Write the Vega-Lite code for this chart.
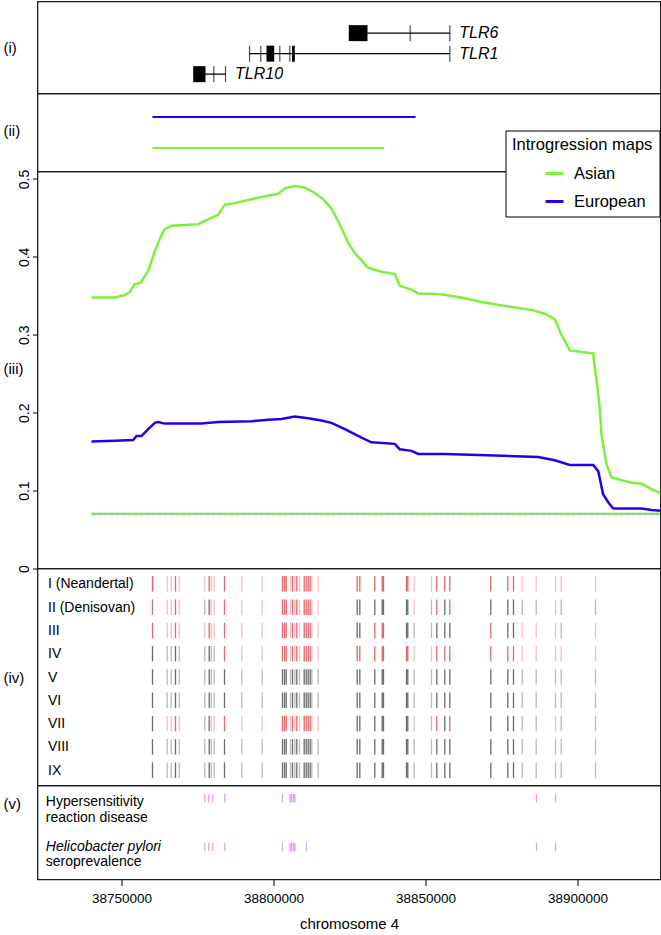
{
  "$schema": "https://vega.github.io/schema/vega-lite/v6.json",
  "padding": {"left": 1.5, "top": 0.5, "right": 0, "bottom": 3},
  "bounds": "flush",
  "spacing": 0,
  "config": {
    "font": "Liberation Sans",
    "view": {"stroke": "#1a1a1a", "strokeWidth": 1.3},
    "axis": {"grid": false, "domain": false, "labelColor": "black", "titleColor": "black", "tickColor": "black", "titleFontWeight": "normal", "titleFontSize": 15, "labelFontSize": 14, "labelFlush": false}
  },
  "resolve": {"scale": {"x": "independent", "y": "independent", "color": "independent"}},
  "datasets": {
    "genes": [
      {"g": "TLR6", "row": 1.3, "s": 38824770, "e": 38857996},
      {"g": "TLR1", "row": 2.3, "s": 38792106, "e": 38857996},
      {"g": "TLR10", "row": 3.3, "s": 38773586, "e": 38784211}
    ],
    "exons": [
      {"row": 1.3, "s": 38824770, "e": 38830921},
      {"row": 2.3, "s": 38797698, "e": 38800231},
      {"row": 2.3, "s": 38806100, "e": 38807007},
      {"row": 3.3, "s": 38773586, "e": 38777632}
    ],
    "gmarks": [
      {"row": 1.3, "s": 38844968}, {"row": 1.3, "s": 38857996},
      {"row": 2.3, "s": 38792106}, {"row": 2.3, "s": 38795823}, {"row": 2.3, "s": 38802073}, {"row": 2.3, "s": 38805362}, {"row": 2.3, "s": 38857996},
      {"row": 3.3, "s": 38780362}, {"row": 3.3, "s": 38784211}
    ],
    "maps": [
      {"map": "European", "s": 38760197, "e": 38846711},
      {"map": "Asian", "s": 38760197, "e": 38836415}
    ],
    "thr": [{"pos": 38740132, "e": 38927303, "val": 0.07}],
    "lines": [
      {"map": "Asian", "pos": 38740132, "val": 0.348}, {"map": "Asian", "pos": 38747796, "val": 0.348}, {"map": "Asian", "pos": 38751086, "val": 0.351}, {"map": "Asian", "pos": 38752730, "val": 0.355}, {"map": "Asian", "pos": 38754375, "val": 0.365}, {"map": "Asian", "pos": 38756349, "val": 0.367}, {"map": "Asian", "pos": 38758783, "val": 0.382}, {"map": "Asian", "pos": 38760954, "val": 0.407}, {"map": "Asian", "pos": 38762270, "val": 0.42}, {"map": "Asian", "pos": 38764046, "val": 0.435}, {"map": "Asian", "pos": 38766447, "val": 0.44}, {"map": "Asian", "pos": 38775230, "val": 0.442}, {"map": "Asian", "pos": 38778520, "val": 0.448}, {"map": "Asian", "pos": 38781810, "val": 0.454}, {"map": "Asian", "pos": 38783981, "val": 0.467}, {"map": "Asian", "pos": 38787270, "val": 0.469}, {"map": "Asian", "pos": 38791678, "val": 0.473}, {"map": "Asian", "pos": 38796053, "val": 0.477}, {"map": "Asian", "pos": 38801546, "val": 0.481}, {"map": "Asian", "pos": 38803718, "val": 0.488}, {"map": "Asian", "pos": 38807007, "val": 0.491}, {"map": "Asian", "pos": 38810297, "val": 0.489}, {"map": "Asian", "pos": 38813586, "val": 0.482}, {"map": "Asian", "pos": 38816349, "val": 0.474}, {"map": "Asian", "pos": 38819080, "val": 0.462}, {"map": "Asian", "pos": 38821284, "val": 0.446}, {"map": "Asian", "pos": 38824573, "val": 0.418}, {"map": "Asian", "pos": 38826744, "val": 0.405}, {"map": "Asian", "pos": 38831152, "val": 0.386}, {"map": "Asian", "pos": 38835527, "val": 0.381}, {"map": "Asian", "pos": 38839902, "val": 0.378}, {"map": "Asian", "pos": 38841547, "val": 0.363}, {"map": "Asian", "pos": 38845396, "val": 0.358}, {"map": "Asian", "pos": 38847599, "val": 0.353}, {"map": "Asian", "pos": 38855264, "val": 0.352}, {"map": "Asian", "pos": 38862929, "val": 0.347}, {"map": "Asian", "pos": 38868422, "val": 0.342}, {"map": "Asian", "pos": 38876087, "val": 0.337}, {"map": "Asian", "pos": 38884870, "val": 0.332}, {"map": "Asian", "pos": 38889245, "val": 0.327}, {"map": "Asian", "pos": 38892534, "val": 0.32}, {"map": "Asian", "pos": 38894738, "val": 0.3}, {"map": "Asian", "pos": 38897468, "val": 0.28}, {"map": "Asian", "pos": 38905166, "val": 0.276}, {"map": "Asian", "pos": 38905692, "val": 0.258}, {"map": "Asian", "pos": 38906810, "val": 0.224}, {"map": "Asian", "pos": 38907337, "val": 0.205}, {"map": "Asian", "pos": 38907896, "val": 0.172}, {"map": "Asian", "pos": 38909541, "val": 0.134}, {"map": "Asian", "pos": 38911186, "val": 0.117}, {"map": "Asian", "pos": 38917765, "val": 0.11}, {"map": "Asian", "pos": 38921054, "val": 0.109}, {"map": "Asian", "pos": 38924344, "val": 0.102}, {"map": "Asian", "pos": 38927633, "val": 0.096},
      {"map": "European", "pos": 38740132, "val": 0.163}, {"map": "European", "pos": 38747796, "val": 0.164}, {"map": "European", "pos": 38753849, "val": 0.165}, {"map": "European", "pos": 38754934, "val": 0.17}, {"map": "European", "pos": 38756579, "val": 0.17}, {"map": "European", "pos": 38758783, "val": 0.179}, {"map": "European", "pos": 38760954, "val": 0.187}, {"map": "European", "pos": 38762072, "val": 0.188}, {"map": "European", "pos": 38764244, "val": 0.186}, {"map": "European", "pos": 38776316, "val": 0.186}, {"map": "European", "pos": 38781810, "val": 0.188}, {"map": "European", "pos": 38792764, "val": 0.189}, {"map": "European", "pos": 38798257, "val": 0.191}, {"map": "European", "pos": 38802632, "val": 0.192}, {"map": "European", "pos": 38807007, "val": 0.195}, {"map": "European", "pos": 38811415, "val": 0.193}, {"map": "European", "pos": 38815790, "val": 0.19}, {"map": "European", "pos": 38819080, "val": 0.187}, {"map": "European", "pos": 38823455, "val": 0.179}, {"map": "European", "pos": 38828948, "val": 0.168}, {"map": "European", "pos": 38832238, "val": 0.162}, {"map": "European", "pos": 38839902, "val": 0.16}, {"map": "European", "pos": 38841547, "val": 0.153}, {"map": "European", "pos": 38845396, "val": 0.151}, {"map": "European", "pos": 38847599, "val": 0.147}, {"map": "European", "pos": 38856350, "val": 0.147}, {"map": "European", "pos": 38872797, "val": 0.145}, {"map": "European", "pos": 38887073, "val": 0.143}, {"map": "European", "pos": 38892534, "val": 0.139}, {"map": "European", "pos": 38897468, "val": 0.133}, {"map": "European", "pos": 38905166, "val": 0.133}, {"map": "European", "pos": 38906810, "val": 0.125}, {"map": "European", "pos": 38908455, "val": 0.095}, {"map": "European", "pos": 38910100, "val": 0.085}, {"map": "European", "pos": 38911745, "val": 0.077}, {"map": "European", "pos": 38917765, "val": 0.077}, {"map": "European", "pos": 38921054, "val": 0.077}, {"map": "European", "pos": 38924344, "val": 0.075}, {"map": "European", "pos": 38927633, "val": 0.074}
    ],
    "snps": [
      {"p": 38760197, "I": "a", "II": "a", "III": "a", "IV": "c", "V": "c", "VI": "c", "VII": "c", "VIII": "c", "IX": "c"},
      {"p": 38765033, "I": "b", "II": "b", "III": "b", "IV": "d", "V": "d", "VI": "d", "VII": "b", "VIII": "d", "IX": "d"},
      {"p": 38766349, "I": "b", "II": "b", "III": "b", "IV": "d", "V": "d", "VI": "d", "VII": "b", "VIII": "d", "IX": "d"},
      {"p": 38767763, "I": "a", "II": "a", "III": "a", "IV": "c", "V": "c", "VI": "c", "VII": "a", "VIII": "c", "IX": "c"},
      {"p": 38768981, "I": "b", "II": "b", "III": "b", "IV": "d", "V": "d", "VI": "d", "VII": "b", "VIII": "d", "IX": "d"},
      {"p": 38777402, "I": "b", "II": "d", "III": "b", "IV": "d", "V": "d", "VI": "d", "VII": "d", "VIII": "d", "IX": "d"},
      {"p": 38778849, "I": "a", "II": "c", "III": "a", "IV": "c", "V": "c", "VI": "c", "VII": "c", "VIII": "c", "IX": "c"},
      {"p": 38779507, "I": "b", "II": "b", "III": "b", "IV": "d", "V": "d", "VI": "d", "VII": "b", "VIII": "d", "IX": "d"},
      {"p": 38780494, "I": "b", "II": "b", "III": "b", "IV": "d", "V": "d", "VI": "d", "VII": "b", "VIII": "d", "IX": "d"},
      {"p": 38783882, "I": "a", "II": "a", "III": "a", "IV": "a", "V": "c", "VI": "c", "VII": "a", "VIII": "c", "IX": "c"},
      {"p": 38789573, "I": "b", "II": "b", "III": "b", "IV": "b", "V": "d", "VI": "d", "VII": "b", "VIII": "d", "IX": "d"},
      {"p": 38796283, "I": "b", "II": "b", "III": "b", "IV": "b", "V": "d", "VI": "d", "VII": "b", "VIII": "d", "IX": "d"},
      {"p": 38802961, "I": "a", "II": "a", "III": "a", "IV": "a", "V": "c", "VI": "c", "VII": "a", "VIII": "c", "IX": "c"},
      {"p": 38803619, "I": "a", "II": "a", "III": "a", "IV": "a", "V": "c", "VI": "c", "VII": "a", "VIII": "c", "IX": "c"},
      {"p": 38804178, "I": "a", "II": "a", "III": "a", "IV": "a", "V": "c", "VI": "c", "VII": "a", "VIII": "c", "IX": "c"},
      {"p": 38805593, "I": "b", "II": "b", "III": "b", "IV": "b", "V": "d", "VI": "d", "VII": "b", "VIII": "d", "IX": "d"},
      {"p": 38806250, "I": "a", "II": "a", "III": "a", "IV": "a", "V": "c", "VI": "c", "VII": "a", "VIII": "c", "IX": "c"},
      {"p": 38807007, "I": "b", "II": "b", "III": "b", "IV": "b", "V": "d", "VI": "d", "VII": "b", "VIII": "d", "IX": "d"},
      {"p": 38807665, "I": "a", "II": "a", "III": "a", "IV": "a", "V": "c", "VI": "c", "VII": "a", "VIII": "c", "IX": "c"},
      {"p": 38808553, "I": "b", "II": "b", "III": "b", "IV": "b", "V": "d", "VI": "d", "VII": "b", "VIII": "d", "IX": "d"},
      {"p": 38810100, "I": "a", "II": "a", "III": "a", "IV": "a", "V": "c", "VI": "c", "VII": "a", "VIII": "c", "IX": "c"},
      {"p": 38810757, "I": "a", "II": "a", "III": "a", "IV": "a", "V": "c", "VI": "c", "VII": "a", "VIII": "c", "IX": "c"},
      {"p": 38811415, "I": "a", "II": "a", "III": "a", "IV": "a", "V": "c", "VI": "c", "VII": "a", "VIII": "c", "IX": "c"},
      {"p": 38812074, "I": "a", "II": "a", "III": "a", "IV": "a", "V": "c", "VI": "c", "VII": "a", "VIII": "c", "IX": "c"},
      {"p": 38812599, "I": "b", "II": "b", "III": "b", "IV": "b", "V": "d", "VI": "d", "VII": "b", "VIII": "d", "IX": "d"},
      {"p": 38814704, "I": "b", "II": "b", "III": "b", "IV": "b", "V": "d", "VI": "d", "VII": "b", "VIII": "d", "IX": "d"},
      {"p": 38827534, "I": "a", "II": "c", "III": "c", "IV": "a", "V": "c", "VI": "c", "VII": "c", "VIII": "c", "IX": "c"},
      {"p": 38828389, "I": "a", "II": "c", "III": "c", "IV": "a", "V": "c", "VI": "c", "VII": "c", "VIII": "c", "IX": "c"},
      {"p": 38833323, "I": "a", "II": "c", "III": "a", "IV": "a", "V": "c", "VI": "c", "VII": "c", "VIII": "c", "IX": "c"},
      {"p": 38835757, "I": "a", "II": "c", "III": "a", "IV": "a", "V": "c", "VI": "c", "VII": "c", "VIII": "c", "IX": "c"},
      {"p": 38836185, "I": "a", "II": "c", "III": "a", "IV": "a", "V": "c", "VI": "c", "VII": "c", "VIII": "c", "IX": "c"},
      {"p": 38843751, "I": "a", "II": "c", "III": "c", "IV": "a", "V": "c", "VI": "c", "VII": "c", "VIII": "c", "IX": "c"},
      {"p": 38844178, "I": "a", "II": "c", "III": "c", "IV": "a", "V": "c", "VI": "c", "VII": "c", "VIII": "c", "IX": "c"},
      {"p": 38846284, "I": "b", "II": "b", "III": "d", "IV": "b", "V": "d", "VI": "d", "VII": "b", "VIII": "d", "IX": "d"},
      {"p": 38851975, "I": "b", "II": "d", "III": "d", "IV": "b", "V": "d", "VI": "d", "VII": "d", "VIII": "d", "IX": "d"},
      {"p": 38853718, "I": "a", "II": "a", "III": "c", "IV": "a", "V": "c", "VI": "c", "VII": "a", "VIII": "c", "IX": "c"},
      {"p": 38856350, "I": "a", "II": "c", "III": "c", "IV": "a", "V": "c", "VI": "c", "VII": "c", "VIII": "c", "IX": "c"},
      {"p": 38857996, "I": "a", "II": "a", "III": "c", "IV": "a", "V": "c", "VI": "c", "VII": "a", "VIII": "c", "IX": "c"},
      {"p": 38871481, "I": "a", "II": "c", "III": "a", "IV": "a", "V": "c", "VI": "c", "VII": "c", "VIII": "c", "IX": "c"},
      {"p": 38877073, "I": "a", "II": "c", "III": "c", "IV": "a", "V": "c", "VI": "c", "VII": "c", "VIII": "c", "IX": "c"},
      {"p": 38878948, "I": "a", "II": "c", "III": "c", "IV": "a", "V": "c", "VI": "c", "VII": "c", "VIII": "c", "IX": "c"},
      {"p": 38881810, "I": "b", "II": "d", "III": "b", "IV": "b", "V": "d", "VI": "d", "VII": "d", "VIII": "d", "IX": "d"},
      {"p": 38886416, "I": "b", "II": "d", "III": "b", "IV": "b", "V": "d", "VI": "d", "VII": "d", "VIII": "d", "IX": "d"},
      {"p": 38892764, "I": "b", "II": "b", "III": "b", "IV": "b", "V": "d", "VI": "d", "VII": "b", "VIII": "d", "IX": "d"},
      {"p": 38894639, "I": "b", "II": "d", "III": "d", "IV": "b", "V": "d", "VI": "d", "VII": "d", "VIII": "d", "IX": "d"},
      {"p": 38905922, "I": "b", "II": "d", "III": "b", "IV": "b", "V": "d", "VI": "d", "VII": "d", "VIII": "d", "IX": "d"}
    ],
    "traits": [
      {"y": 1.35, "p": 38777402}, {"y": 1.35, "p": 38778717}, {"y": 1.35, "p": 38780033}, {"y": 1.35, "p": 38783981}, {"y": 1.35, "p": 38802961}, {"y": 1.35, "p": 38805494}, {"y": 1.35, "p": 38805922}, {"y": 1.35, "p": 38806579}, {"y": 1.35, "p": 38807007}, {"y": 1.35, "p": 38886514}, {"y": 1.35, "p": 38892764},
      {"y": 6.55, "p": 38777402}, {"y": 6.55, "p": 38778717}, {"y": 6.55, "p": 38780033}, {"y": 6.55, "p": 38783981}, {"y": 6.55, "p": 38802961}, {"y": 6.55, "p": 38805494}, {"y": 6.55, "p": 38805922}, {"y": 6.55, "p": 38806579}, {"y": 6.55, "p": 38807007}, {"y": 6.55, "p": 38810856}, {"y": 6.55, "p": 38886514}, {"y": 6.55, "p": 38892764}
    ],
    "tlabels": [
      {"t": "Hypersensitivity", "y": 1.78, "it": 0, "p": 38722368},
      {"t": "reaction disease", "y": 3.48, "it": 0, "p": 38722368},
      {"t": "Helicobacter pylori", "y": 6.56, "it": 1, "p": 38722368},
      {"t": "seroprevalence", "y": 8.16, "it": 0, "p": 38722368}
    ]
  },
  "vconcat": [
    {
      "width": 623, "height": 92,
      "encoding": {
        "y": {"field": "row", "type": "quantitative", "scale": {"domain": [0, 4], "reverse": true, "nice": false, "zero": false},
              "axis": {"title": "(i)", "labels": false, "ticks": false, "titleAngle": 0, "titleAlign": "left", "titleBaseline": "middle", "titleX": -34.5, "titleY": 45.5}}
      },
      "layer": [
        {"data": {"name": "genes"}, "mark": {"type": "rule", "color": "black", "strokeWidth": 1.2},
         "encoding": {"x": {"field": "s", "type": "quantitative", "scale": {"domain": [38722368, 38927303], "nice": false, "zero": false}, "axis": null}, "x2": {"field": "e"}}},
        {"data": {"name": "exons"}, "mark": {"type": "bar", "color": "black", "size": 16},
         "encoding": {"x": {"field": "s", "type": "quantitative", "axis": null}, "x2": {"field": "e"}}},
        {"data": {"name": "gmarks"}, "mark": {"type": "tick", "color": "black", "orient": "vertical", "size": 16, "thickness": 1.2},
         "encoding": {"x": {"field": "s", "type": "quantitative", "axis": null}}},
        {"data": {"name": "genes"}, "mark": {"type": "text", "align": "left", "baseline": "middle", "dx": 9.5, "fontSize": 16, "fontStyle": "italic", "color": "black"},
         "encoding": {"x": {"field": "e", "type": "quantitative", "axis": null}, "text": {"field": "g"}}}
      ]
    },
    {
      "width": 623, "height": 78,
      "data": {"name": "maps"},
      "mark": {"type": "rule", "strokeWidth": 2.2},
      "encoding": {
        "x": {"field": "s", "type": "quantitative", "scale": {"domain": [38722368, 38927303], "nice": false, "zero": false}, "axis": null},
        "x2": {"field": "e"},
        "y": {"field": "map", "type": "nominal", "scale": {"type": "point", "domain": ["European", "Asian"], "padding": 0.758},
              "axis": {"title": "(ii)", "labels": false, "ticks": false, "titleAngle": 0, "titleAlign": "left", "titleBaseline": "middle", "titleX": -34.5, "titleY": 37}},
        "color": {"field": "map", "type": "nominal", "scale": {"domain": ["Asian", "European"], "range": ["#7CF03A", "#2200EE"]}, "legend": null}
      }
    },
    {
      "width": 623, "height": 397,
      "encoding": {
        "x": {"field": "pos", "type": "quantitative", "scale": {"domain": [38722368, 38927303], "nice": false, "zero": false}, "axis": null},
        "y": {"field": "val", "type": "quantitative", "scale": {"domain": [0, 0.5096], "nice": false, "zero": false},
              "axis": {"title": "(iii)", "titleAngle": 0, "titleAlign": "left", "titleBaseline": "middle", "titleX": -34.5, "titleY": 197.3,
                       "values": [0, 0.1, 0.2, 0.3, 0.4, 0.5], "format": "~g", "labelAngle": -90, "labelAlign": "center", "labelBaseline": "alphabetic", "tickSize": 5, "labelPadding": 4}}
      },
      "layer": [
        {"data": {"name": "thr"}, "mark": {"type": "rule", "color": "#A3B4EE", "strokeWidth": 2.2, "clip": true}, "encoding": {"x2": {"field": "e"}}},
        {"data": {"name": "thr"}, "mark": {"type": "rule", "color": "#7CF03A", "strokeWidth": 2.6, "strokeDash": [3.5, 2.5], "clip": true}, "encoding": {"x2": {"field": "e"}}},
        {"data": {"name": "lines"}, "mark": {"type": "line", "strokeWidth": 2.5, "clip": true},
         "encoding": {
           "color": {"field": "map", "type": "nominal", "scale": {"domain": ["Asian", "European"], "range": ["#7CF03A", "#2200EE"]},
                     "legend": {"title": "Introgression maps", "orient": "none", "legendX": 468, "legendY": -41, "direction": "vertical",
                                "strokeColor": "black", "fillColor": "white", "padding": 6.5,
                                "titleFontSize": 16.5, "titleFontWeight": "normal", "titleColor": "black", "titlePadding": 9.5,
                                "labelFontSize": 16.5, "labelColor": "black", "labelOffset": 9,
                                "symbolType": "stroke", "symbolStrokeWidth": 3, "symbolSize": 324, "symbolOffset": 32, "rowPadding": 9}}
         }}
      ]
    },
    {
      "width": 623, "height": 217,
      "data": {"name": "snps"},
      "transform": [{"fold": ["I", "II", "III", "IV", "V", "VI", "VII", "VIII", "IX"], "as": ["k", "v"]}],
      "mark": {"type": "tick", "orient": "vertical", "size": 15.5, "thickness": 1.3},
      "encoding": {
        "x": {"field": "p", "type": "quantitative", "scale": {"domain": [38722368, 38927303], "nice": false, "zero": false}, "axis": null},
        "y": {"field": "k", "type": "nominal", "scale": {"type": "point", "domain": ["I", "II", "III", "IV", "V", "VI", "VII", "VIII", "IX"], "padding": 0.66},
              "axis": {"title": "(iv)", "titleAngle": 0, "titleAlign": "left", "titleBaseline": "middle", "titleX": -34.5, "titleY": 109,
                       "ticks": false, "tickSize": 0, "labelAlign": "left", "labelBaseline": "middle", "labelPadding": -10, "labelFontSize": 14,
                       "labelExpr": "datum.label == 'I' ? 'I (Neandertal)' : datum.label == 'II' ? 'II (Denisovan)' : datum.label"}},
        "color": {"field": "v", "type": "nominal", "scale": {"domain": ["a", "b", "c", "d"], "range": ["#D4262E", "#F2A2A7", "#2E2E2E", "#9C9C9C"]}, "legend": null}
      }
    },
    {
      "width": 623, "height": 94,
      "encoding": {
        "x": {"field": "p", "type": "quantitative", "scale": {"domain": [38722368, 38927303], "nice": false, "zero": false},
              "axis": {"title": "chromosome 4", "values": [38750000, 38800000, 38850000, 38900000], "format": "d", "labelFontSize": 13.5, "titleFontSize": 15, "tickSize": 6, "labelPadding": 5.5, "titlePadding": 12}},
        "y": {"field": "y", "type": "quantitative", "scale": {"domain": [0, 10], "reverse": true, "nice": false, "zero": false},
              "axis": {"title": "(v)", "labels": false, "ticks": false, "titleAngle": 0, "titleAlign": "left", "titleBaseline": "middle", "titleX": -34.5, "titleY": 18}}
      },
      "layer": [
        {"data": {"name": "traits"}, "mark": {"type": "tick", "orient": "vertical", "size": 8.5, "thickness": 1.3, "color": "#DC74F2"}},
        {"data": {"name": "tlabels"}, "transform": [{"filter": "datum.it == 0"}],
         "mark": {"type": "text", "align": "left", "baseline": "middle", "dx": 8.3, "fontSize": 14, "color": "black"},
         "encoding": {"text": {"field": "t"}}},
        {"data": {"name": "tlabels"}, "transform": [{"filter": "datum.it == 1"}],
         "mark": {"type": "text", "align": "left", "baseline": "middle", "dx": 8.3, "fontSize": 14, "fontStyle": "italic", "color": "black"},
         "encoding": {"text": {"field": "t"}}}
      ]
    }
  ]
}
